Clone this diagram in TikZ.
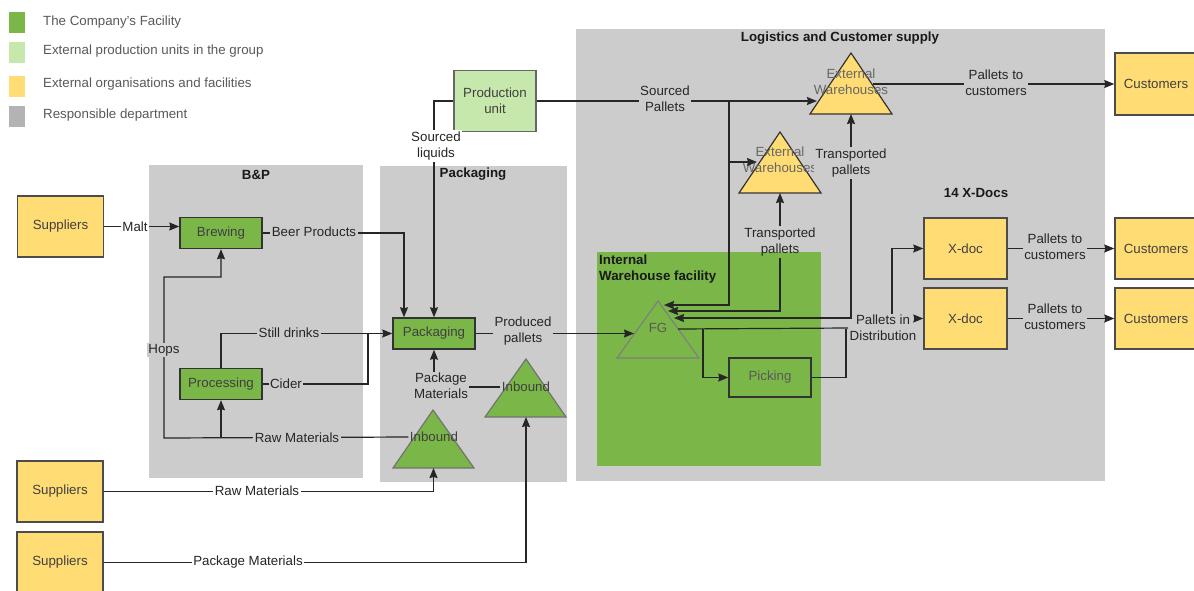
\documentclass[tikz,border=0pt]{standalone}
\usepackage{fontspec}
\setmainfont{Liberation Sans}
\usetikzlibrary{arrows.meta,calc}
\definecolor{rg}{HTML}{CCCCCC}
\definecolor{lgy}{HTML}{B3B3B3}
\definecolor{dg}{HTML}{7AB648}
\definecolor{lgr}{HTML}{C7E8AC}
\definecolor{yl}{HTML}{FFDC74}
\definecolor{ln}{HTML}{333333}
\begin{document}
\begin{tikzpicture}[x=1pt,y=-1pt,
  font=\fontsize{13.3}{16}\selectfont,
  box/.style={draw=ln, line width=1.4pt, minimum width=82pt, minimum height=31pt, inner sep=0pt, text=black!75, align=center},
  gbox/.style={box, fill=dg},
  ybox/.style={box, fill=yl, draw=black!70, minimum width=86pt, minimum height=61pt},
  xbox/.style={box, fill=yl, draw=black!70, minimum width=83pt, minimum height=61pt},
  lbl/.style={inner sep=1.5pt, text=black!85, align=center},
  lblg/.style={lbl, fill=rg},
  lblw/.style={lbl, fill=white},
  title/.style={font=\fontsize{13.3}{16}\selectfont\bfseries, text=black!90, inner sep=0pt, align=left},
  legtext/.style={anchor=west, text=black!65, inner sep=0pt},
  conn/.style={draw=black!85, line width=1.2pt},
  tip/.tip={Stealth[length=10pt,width=8pt,inset=1pt]},
  arr/.style={conn, -tip},
  arrb/.style={conn, tip-tip},
  ytri/.style={fill=yl, draw=black!80, line width=1.2pt},
  gtri/.style={fill=dg, draw=black!55, line width=1.2pt}
]
\useasboundingbox (0,0) rectangle (1194,590);
\fill[white] (0,0) rectangle (1194,590);

% legend
\fill[dg] (9,12) rectangle (25,33);
\fill[lgr] (9,42) rectangle (25,63);
\fill[yl] (9,76) rectangle (25,97);
\fill[lgy] (9,106) rectangle (25,127);
\node[legtext] (lg1) at (43,22.5) {The Company's Facility};
\node[legtext] (lg2) at (43,51.5) {External production units in the group};
\node[legtext] (lg3) at (43,84.5) {External organisations and facilities};
\node[legtext] (lg4) at (43,115.5) {Responsible department};

% regions
\fill[rg] (149,165) rectangle (363,478);
\fill[rg] (380,166) rectangle (567,482);
\fill[rg] (576,29) rectangle (1105,481);
\fill[dg] (597,252) rectangle (821,466);
\node[title] (tbp) at (256,175) {B\&P};
\node[title] (tpk) at (473,174) {Packaging};
\node[title] (tlg) at (840,38) {Logistics and Customer supply};
\node[title, anchor=west] (tiw) at (599,269) {Internal\\Warehouse facility};
\node[title] (txd) at (976,193) {14 X-Docs};

% triangles
\draw[gtri] (433,410) -- (474,468) -- (393,468) -- cycle;
\draw[gtri] (526,359) -- (566,417) -- (485,417) -- cycle;
\draw[fill=dg, draw=black!50, line width=1.2pt] (658,301) -- (699,358) -- (617,358) -- cycle;
\draw[ytri] (780,132) -- (821,193) -- (739,193) -- cycle;
\draw[ytri] (851,53) -- (892,114) -- (810,114) -- cycle;
\node[lbl, text=black!75] (inb1t) at (434,437) {Inbound};
\node[lbl, text=black!75] (inb2t) at (526,387) {Inbound};
\node[lbl, text=black!65] (fgt) at (658,328) {FG};
\node[lbl, text=black!60] (ew2t) at (780,160) {External\\Warehouses};
\node[lbl, text=black!60] (ew1t) at (851,81.5) {External\\Warehouses};

% boxes
\node[ybox] (s1) at (60.5,226.5) {Suppliers};
\node[ybox] (s2) at (60,491.5) {Suppliers};
\node[ybox] (s3) at (60,562.5) {Suppliers};
\node[gbox] (brew) at (221,233) {Brewing};
\node[gbox] (proc) at (221,384) {Processing};
\node[gbox] (pack) at (434,333.5) {Packaging};
\node[box, fill=lgr, draw=black!60, minimum height=61pt] (prod) at (495,101) {Production\\unit};
\node[box, minimum height=39pt, text=black!65] (pick) at (770,377.5) {Picking};
\node[xbox] (xd1) at (965.5,248.5) {X-doc};
\node[xbox] (xd2) at (965.5,318.5) {X-doc};
\node[ybox, minimum width=82pt, minimum height=62pt] (cu1) at (1156,84) {Customers};
\node[ybox, minimum width=82pt] (cu2) at (1156,248.5) {Customers};
\node[ybox, minimum width=82pt] (cu3) at (1156,318.5) {Customers};
\node[lbl] (pid) at (883,328) {Pallets in\\Distribution};
\node[lbl] (tp2) at (780,242) {Transported\\pallets};

% coordinates
\coordinate (inb1b) at (433.5,468);
\coordinate (inb2b) at (526,417);
\coordinate (ew1L) at (817,101);
\coordinate (ew1B) at (851,114);
\coordinate (ew1R) at (873,84);
\coordinate (ew2L) at (757,162);
\coordinate (ew2B) at (780,193);
\coordinate (fgA) at (664,305);
\coordinate (fgB) at (668,311);
\coordinate (fgC) at (674,318);
\coordinate (fgD) at (678,329);
\coordinate (fgE) at (634,333.5);
\coordinate (spj) at (729,101);
\coordinate (cj) at (368,333.5);
\coordinate (hA) at (164,438);
\coordinate (hB) at (164,277);
\coordinate (pj) at (703,329);
\coordinate (pk) at (846,329);
\coordinate (xdj) at (892,314);

% connectors
\draw[arr] (s1.east) -- (s1.east -| brew.west);
\draw[arr] (brew.east) -| ([xshift=-30pt]pack.north);
\draw[arr] (proc.north) |- (pack.west);
\draw[conn] (proc.east) -| (cj);
\draw[arr] (inb1t.west) -- (hA) -- (hB) -| (brew.south);
\draw[arr] (proc.south |- hA) -- (proc.south);
\draw[arr] (s2.east) -| (inb1b);
\draw[arr] (s3.east) -| (inb2b);
\draw[arr] (inb2t.west) -| (pack.south);
\draw[arr] (prod.west) -| (pack.north);
\draw[arr] (pack.east) -- (fgE);
\draw[arr] (prod.east) -- (ew1L);
\draw[arr] (spj) |- (ew2L);
\draw[arr] (spj) |- (fgA);
\draw[arr] (tp2.north) -- (ew2B);
\draw[arr] (tp2.south) |- (fgB);
\draw[arrb] (ew1B) |- (fgC);
\draw[conn] (fgD) -- (pid.west);
\draw[arr] (pj) |- (pick.west);
\draw[conn] (pick.east) -| (pk);
\draw[arr] (pid.east |- xd2.west) -- (xd2.west);
\draw[arr] (xdj) |- (xd1.west);
\draw[arr] (ew1R) -- (cu1.west);
\draw[arr] (xd1.east) -- (cu2.west);
\draw[arr] (xd2.east) -- (cu3.west);

% labels on lines
\node[lblw] (lmalt) at (135,226.5) {Malt};
\node[lblg] (lbeer) at (314,232) {Beer Products};
\node[lblg] (lstill) at (289,333) {Still drinks};
\node[lblg] (lcider) at (286,384) {Cider};
\node[lblg] (lhops) at (164,350) {Hops};
\node[lblg] (lraw1) at (297,438) {Raw Materials};
\node[lblw] (lraw2) at (257,491) {Raw Materials};
\node[lblw] (lpm2) at (248,562) {Package Materials};
\node[lblg] (lpm1) at (441,386) {Package\\Materials};
\node[lblw] (lsl) at (436,146) {Sourced\\liquids};
\node[lblg] (lpp) at (523,331) {Produced\\pallets};
\node[lblg] (lsp) at (665,99) {Sourced\\Pallets};
\node[lblg] (ltp1) at (851,163) {Transported\\pallets};
\node[lblg] (lpc1) at (996,83) {Pallets to\\customers};
\node[lblg] (lpc2) at (1055,246.5) {Pallets to\\customers};
\node[lblg] (lpc3) at (1055,316.5) {Pallets to\\customers};
\end{tikzpicture}
\end{document}
